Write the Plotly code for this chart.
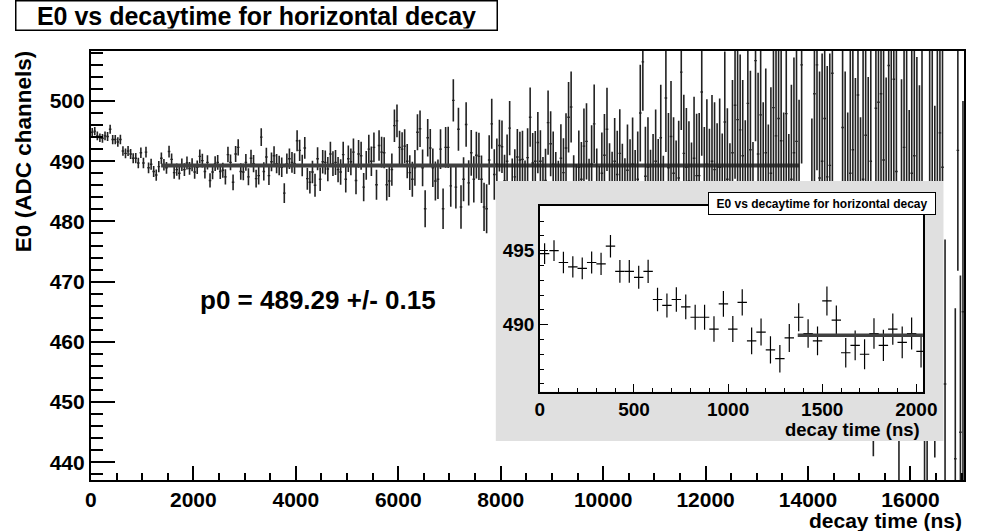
import plotly.graph_objects as go

# ---------------- data ----------------
BIN_WIDTH_NS = 50          # histogram bin width, ns (bin centres at 25, 75, ...)

E0_VALUES = [
    # 0 - 2050 ns (also shown in the inset)
    494.8, 495.0, 494.2, 493.9, 493.8, 494.2, 494.1, 495.3, 493.6, 493.6,
    493.2, 493.6, 491.7, 491.3, 491.7, 491.2, 490.5, 490.5, 489.7, 491.4,
    489.7, 491.5, 488.9, 489.5, 488.3, 487.7, 489.1, 490.5, 489.4, 488.9,
    491.6, 490.3, 488.1, 488.6, 488.0, 489.4, 488.6, 489.7, 488.8, 489.4,
    488.2,
    # 2050 - 5400 ns
    489.0,
    490.8, 490.1, 488.3, 489.8, 486.8, 488.2, 489.6, 489.8, 488.3, 488.5,
    487.4, 491.1, 489.8, 486.5, 491.2, 492.3, 488.3, 488.2, 489.8, 487.4,
    490.5, 489.6, 487.1, 487.6, 494.0, 488.3, 490.7, 487.6, 489.9, 490.9,
    489.6, 489.3, 489.0, 484.7, 489.6, 490.4, 489.8, 489.6, 493.4, 491.8,
    489.3, 492.2, 487.1, 486.5, 488.2, 486.0, 490.4, 487.0, 489.9, 489.8,
    488.7, 491.2, 489.6, 489.8, 488.6, 488.2, 491.1, 487.0, 490.4, 489.9,
    491.5, 486.8, 491.2, 490.9, 485.7, 489.3,
    # 5400 - 8800 ns
    492.0, 490.0, 492.3, 486.1, 492.6, 491.5, 491.4, 486.1, 486.7, 488.6,
    495.9, 496.7, 492.3, 492.0, 492.5, 490.0, 488.1, 487.0, 488.9, 494.8,
    495.4, 488.9, 482.1, 493.9, 492.2, 488.9, 486.7, 487.0, 492.0, 482.1,
    492.3, 492.3, 485.9, 500.1, 485.7, 495.3, 482.4, 487.0, 496.1, 486.4,
    491.4, 487.0, 491.0, 490.8, 487.0, 482.4, 482.1, 490.2, 496.2, 487.8,
    489.5, 492.6, 492.4, 486.7, 490.0, 495.5, 485.9, 487.4, 490.7, 490.2,
    490.3, 485.3, 490.6, 497.3, 489.7, 490.0, 493.1, 490.0,
    # 8800 - 12200 ns
    485.5, 486.8, 496.4, 492.9, 489.5, 486.0, 484.5, 490.5, 488.1, 492.2,
    497.3, 499.0, 485.0, 483.5, 489.0, 487.0, 492.5, 493.3, 484.0, 489.5,
    496.2, 485.5, 482.5, 488.0, 491.0, 495.3, 486.0, 484.5, 490.0, 487.8,
    491.3, 485.5, 483.0, 488.5, 486.0, 489.5, 484.0, 487.0, 498.0, 506.5,
    487.5, 489.0, 483.5, 486.0, 490.0, 485.0, 493.9, 482.0, 500.5, 488.9,
    494.1, 488.0, 484.0, 487.2, 504.8, 491.3, 489.0, 486.7, 483.0, 490.5,
    487.6, 487.6, 501.5, 485.0, 489.5, 484.5, 490.0, 488.6,
    # 12200 - 17050 ns
    485.0, 489.0, 483.0, 496.5, 487.0, 481.0, 491.4, 499.3, 496.9, 495.2,
    490.9, 484.0, 499.6, 491.9, 480.0, 506.7, 491.2, 497.7, 486.0, 491.4,
    482.0, 488.0, 498.9, 494.2, 497.1, 493.4, 483.0, 497.9, 479.0, 487.0,
    491.4, 493.3, 484.0, 506.0, None, None, None, 480.0, 501.2, 506.0,
    487.2, 490.0, 497.1, 487.4, 489.3, 504.6, None, None, None, 495.6,
    485.0, 478.0, 488.0, 491.9, 483.0, 501.0, 476.0, 487.0, 494.3, 482.0,
    490.0, 462.0, 498.8, 499.8, 501.2, 490.2, 480.0, 505.9, 486.0, 503.6,
    488.3, 455.0, 478.0, 492.3, 484.0, 472.0, 488.0, 490.9, 480.0, 475.0,
    485.0, 460.0, 458.0, 486.6, 480.0, 470.0, 484.0, 494.7, 489.0, 453.0,
    None, None, None, 440.6, 491.8, 445.0, 465.0,
]

E0_ERRORS = [
    0.70, 0.70, 0.72, 0.72, 0.73, 0.74, 0.75, 0.76, 0.77, 0.77,
    0.78, 0.79, 0.80, 0.81, 0.82, 0.83, 0.84, 0.85, 0.86, 0.87,
    0.88, 0.89, 0.90, 0.91, 0.92, 0.93, 0.94, 0.95, 0.96, 0.97,
    0.98, 0.99, 1.00, 1.01, 1.02, 1.03, 1.05, 1.06, 1.07, 1.08,
    1.10, 1.12, 1.13, 1.14, 1.16, 1.17, 1.18, 1.20, 1.21, 1.22,
    1.24, 1.25, 1.27, 1.28, 1.30, 1.31, 1.33, 1.34, 1.36, 1.37,
    1.39, 1.41, 1.42, 1.44, 1.46, 1.47, 1.49, 1.51, 1.52, 1.54,
    1.56, 1.58, 1.60, 1.62, 1.63, 1.65, 1.67, 1.69, 1.71, 1.73,
    1.75, 1.77, 1.79, 1.81, 1.83, 1.86, 1.88, 1.90, 1.92, 1.94,
    1.96, 1.99, 2.01, 2.03, 2.06, 2.08, 2.10, 2.13, 2.15, 2.18,
    2.19, 2.22, 2.25, 2.27, 2.30, 2.33, 2.35, 2.38, 2.41, 2.44,
    2.46, 2.49, 2.52, 2.55, 2.58, 2.61, 2.64, 2.67, 2.70, 2.73,
    2.75, 2.79, 2.82, 2.85, 2.89, 2.92, 2.96, 2.99, 3.03, 3.06,
    3.08, 3.12, 3.16, 3.20, 3.23, 3.27, 3.31, 3.35, 3.39, 3.43,
    3.46, 3.50, 3.54, 3.58, 3.62, 3.66, 3.71, 3.75, 3.80, 3.84,
    3.87, 3.92, 3.96, 4.01, 4.06, 4.10, 4.15, 4.20, 4.25, 4.30,
    4.34, 4.39, 4.44, 4.50, 4.55, 4.60, 4.65, 4.71, 4.76, 4.82,
    4.86, 4.92, 4.97, 5.03, 5.09, 5.15, 5.21, 5.27, 5.33, 5.39,
    5.44, 5.51, 5.57, 5.64, 5.70, 5.77, 5.84, 5.90, 5.97, 6.04,
    6.10, 6.17, 6.24, 6.32, 6.39, 6.46, 6.54, 6.62, 6.69, 6.77,
    6.83, 6.91, 6.99, 7.07, 7.16, 7.24, 7.33, 7.41, 7.50, 7.59,
    7.66, 7.75, 7.84, 7.93, 8.03, 8.12, 8.22, 8.31, 8.41, 8.51,
    8.58, 8.68, 8.78, 8.89, 8.99, 9.10, 9.20, 9.31, 9.42, 9.53,
    9.61, 9.72, 9.84, 9.95, 10.1, 10.2, 10.3, 10.4, 10.6, 10.7,
    10.8, 10.9, 11.0, 11.2, 11.3, 11.4, 11.6, 11.7, 11.8, 12.0,
    12.1, 12.2, 12.3, 12.5, 12.6, 12.8, 12.9, 13.1, 13.2, 13.4,
    13.5, 13.7, 13.8, 14.0, 14.1, 14.3, 14.5, 14.6, 14.8, 15.0,
    15.1, 15.3, 15.5, 15.7, 15.8, 16.0, 16.2, 16.4, 16.6, 16.8,
    16.9, 17.1, 17.3, 17.5, 17.7, 17.9, 18.2, 18.4, 18.6, 18.8,
    19.0, 19.2, 19.4, 19.7, 19.9, 20.1, 20.4, 20.6, 20.8, 21.1,
    21.3, 21.5, 21.8, 22.0, 22.3, 21.0, 22.8, 23.1, 23.3, 23.6,
    23.9, 24.2, 24.4, 24.7, 25.0, 23.0, 25.6, 25.9, 26.2, 26.5,
    26.7, 27.0, 27.3, 27.6, 27.9, 25.0, 25.0, 28.6, 28.9, 29.2,
    29.5, 29.8, 30.2, 24.0, 30.8, 31.2, 31.5, 25.0, 20.0, 26.0, 35.0,
]

FIT_P0 = 489.29
FIT_P0_ERR = 0.15
FIT_RANGE_NS = [1370, 13830]

TITLE = "E0 vs decaytime for horizontal decay"
X_TITLE = "decay time (ns)"
Y_TITLE = "E0 (ADC channels)"

MAIN_X_RANGE = [0, 17050]
MAIN_Y_RANGE = [437.06, 508.3]
INSET_X_RANGE = [0, 2035]
INSET_Y_RANGE = [485.47, 498.05]

assert len(E0_VALUES) == len(E0_ERRORS)
centers = [BIN_WIDTH_NS * (i + 0.5) for i in range(len(E0_VALUES))]

# ---------------- geometry (pixels) ----------------
W, H = 981, 531
FONT = "Liberation Sans, Arial, Helvetica, sans-serif"
MAIN = dict(l=86.7, t=51, r=978.2, b=480)
PAD = dict(l=500, t=181, r=957, b=441)
INSET = dict(l=545, t=205.5, r=936, b=391.7)


def fx(px):
    return px / W


def fy(py):
    return 1 - py / H


def main_x(px):
    return MAIN_X_RANGE[0] + (px - MAIN['l']) / (MAIN['r'] - MAIN['l']) * (MAIN_X_RANGE[1] - MAIN_X_RANGE[0])


def main_y(py):
    return MAIN_Y_RANGE[1] - (py - MAIN['t']) / (MAIN['b'] - MAIN['t']) * (MAIN_Y_RANGE[1] - MAIN_Y_RANGE[0])


pad_x0, pad_x1 = main_x(PAD['l']), main_x(PAD['r'])
pad_ytop, pad_ybot = main_y(PAD['t']), main_y(PAD['b'])

outside_idx = [i for i, c in enumerate(centers) if not (pad_x0 <= c <= pad_x1)]
inside_idx = [i for i, c in enumerate(centers) if pad_x0 <= c <= pad_x1]
inset_idx = [i for i, c in enumerate(centers) if c <= INSET_X_RANGE[1] + BIN_WIDTH_NS]


def pick(idx):
    return ([centers[i] for i in idx], [E0_VALUES[i] for i in idx], [E0_ERRORS[i] for i in idx])


def hist_trace(idx, xaxis, yaxis, bar_thick, hbar_thick, color):
    xs, ys, es = pick(idx)
    return go.Scatter(
        x=xs, y=ys, xaxis=xaxis, yaxis=yaxis, mode='markers',
        marker=dict(size=1, color='rgba(0,0,0,0)'),
        error_x=dict(type='constant', value=BIN_WIDTH_NS / 2, width=0,
                     thickness=hbar_thick, color=color),
        error_y=dict(type='data', array=es, width=0, thickness=bar_thick, color=color),
        showlegend=False, hoverinfo='skip')


fig = go.Figure()
# main histogram (split so that nothing is drawn beneath the inset pad)
fig.add_trace(hist_trace(outside_idx, 'x', 'y', 1.6, 1.4, '#222222'))
fig.add_trace(hist_trace(inside_idx, 'x', 'y3', 1.6, 1.4, '#222222'))
fig.add_trace(hist_trace(inside_idx, 'x', 'y4', 1.6, 1.4, '#222222'))
fig.add_trace(go.Scatter(x=FIT_RANGE_NS, y=[FIT_P0, FIT_P0], xaxis='x', yaxis='y',
                         mode='lines', line=dict(color='#404040', width=4),
                         showlegend=False, hoverinfo='skip'))
# inset
fig.add_trace(hist_trace(inset_idx, 'x2', 'y2', 1.2, 1.2, '#000000'))
fig.add_trace(go.Scatter(x=FIT_RANGE_NS, y=[FIT_P0, FIT_P0], xaxis='x2', yaxis='y2',
                         mode='lines', line=dict(color='#404040', width=3.5),
                         showlegend=False, hoverinfo='skip'))

tick_font_main = dict(family=FONT, size=21, color='black', weight='bold')
tick_font_inset = dict(family=FONT, size=19, color='black', weight='bold')

axis_common = dict(showline=True, linecolor='black', mirror=True, ticks='inside',
                   tickcolor='black', showgrid=False, zeroline=False, tickformat='d')

fig.update_layout(
    width=W, height=H, margin=dict(l=0, r=0, t=0, b=0),
    paper_bgcolor='white', plot_bgcolor='rgba(0,0,0,0)',
    xaxis=dict(domain=[fx(MAIN['l']), fx(MAIN['r'])], range=MAIN_X_RANGE, anchor='y',
               linewidth=2, tick0=0, dtick=2000, ticklen=14, tickwidth=1.5,
               minor=dict(dtick=500, ticklen=7, tickwidth=1.5, ticks='inside', tickcolor='black'),
               tickfont=tick_font_main, **axis_common),
    yaxis=dict(domain=[fy(MAIN['b']), fy(MAIN['t'])], range=MAIN_Y_RANGE, anchor='x',
               linewidth=2, tick0=0, dtick=10, ticklen=24, tickwidth=1.5,
               minor=dict(dtick=2, ticklen=12, tickwidth=1.5, ticks='inside', tickcolor='black'),
               tickfont=tick_font_main, **axis_common),
    yaxis3=dict(domain=[fy(PAD['t']), fy(MAIN['t'])], range=[pad_ytop, MAIN_Y_RANGE[1]],
                anchor='x', visible=False),
    yaxis4=dict(domain=[fy(MAIN['b']), fy(PAD['b'])], range=[MAIN_Y_RANGE[0], pad_ybot],
                anchor='x', visible=False),
    xaxis2=dict(domain=[fx(INSET['l']), fx(INSET['r'])], range=INSET_X_RANGE, anchor='y2',
                linewidth=1.5, tick0=0, dtick=500, ticklen=8, tickwidth=1.2,
                minor=dict(dtick=100, ticklen=4, tickwidth=1.2, ticks='inside', tickcolor='black'),
                tickfont=tick_font_inset, **axis_common),
    yaxis2=dict(domain=[fy(INSET['b']), fy(INSET['t'])], range=INSET_Y_RANGE, anchor='x2',
                linewidth=1.5, tick0=0, dtick=5, ticklen=8, tickwidth=1.2,
                minor=dict(dtick=1, ticklen=4, tickwidth=1.2, ticks='inside', tickcolor='black'),
                tickfont=tick_font_inset, **axis_common),
    shapes=[
        dict(type='rect', xref='paper', yref='paper', layer='below',
             x0=fx(PAD['l']), x1=fx(PAD['r']), y0=fy(PAD['b']), y1=fy(PAD['t']),
             fillcolor='#e0e0e0', line=dict(width=0)),
        dict(type='rect', xref='paper', yref='paper', layer='below',
             x0=fx(INSET['l']), x1=fx(INSET['r']), y0=fy(INSET['b']), y1=fy(INSET['t']),
             fillcolor='white', line=dict(width=0)),
    ],
    annotations=[
        dict(text=TITLE, xref='paper', yref='paper', x=fx(256), y=fy(16),
             xanchor='center', yanchor='middle', showarrow=False,
             width=478, height=26, borderpad=1, borderwidth=1.5, bordercolor='black',
             bgcolor='white', font=dict(family=FONT, size=25, color='black', weight='bold')),
        dict(text=Y_TITLE, xref='paper', yref='paper', x=fx(18), y=fy(151.5),
             xanchor='center', yanchor='middle', showarrow=False, textangle=-90,
             font=dict(family=FONT, size=22.5, color='black', weight='bold')),
        dict(text=X_TITLE, xref='paper', yref='paper', x=fx(978), y=fy(520),
             xanchor='right', yanchor='middle', showarrow=False,
             font=dict(family=FONT, size=21, color='black', weight='bold')),
        dict(text=f"p0 = {FIT_P0:.2f} +/- {FIT_P0_ERR:.2f}", xref='paper', yref='paper',
             x=fx(318), y=fy(300), xanchor='center', yanchor='middle', showarrow=False,
             font=dict(family=FONT, size=26, color='black', weight='bold')),
        dict(text=TITLE, xref='paper', yref='paper', x=fx(833), y=fy(203.3),
             xanchor='center', yanchor='middle', showarrow=False,
             width=224, height=19, borderpad=1, borderwidth=1, bordercolor='black',
             bgcolor='white', font=dict(family=FONT, size=12, color='black', weight='bold')),
        dict(text=X_TITLE, xref='paper', yref='paper', x=fx(935), y=fy(429),
             xanchor='right', yanchor='middle', showarrow=False,
             font=dict(family=FONT, size=18.5, color='black', weight='bold')),
    ],
)

fig.write_html("out.html")
